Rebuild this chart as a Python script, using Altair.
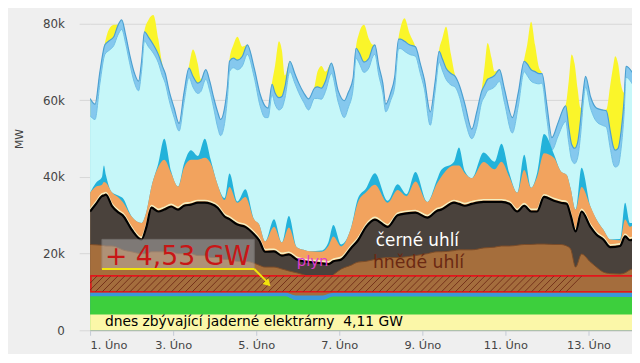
import altair as alt
import pandas as pd

FONT = "DejaVu Sans"

# ---------------- values (GW); x = day of February ----------------
# upper group: top of wind-onshore band, top of wind-offshore band, solar thickness on top
day_top = [
    1.000, 1.119, 1.238, 1.357, 1.452, 1.571, 1.667, 1.762, 1.857, 1.952,
    2.071, 2.167, 2.238, 2.310, 2.405, 2.524, 2.643, 2.738, 2.810, 2.905,
    3.024, 3.143, 3.262, 3.381, 3.476, 3.595, 3.667, 3.786, 3.881, 3.976,
    4.071, 4.143, 4.238, 4.310, 4.357, 4.452, 4.548, 4.667, 4.786, 4.952,
    5.095, 5.214, 5.286, 5.381, 5.452, 5.548, 5.619, 5.690, 5.810, 5.929,
    6.024, 6.143, 6.262, 6.405, 6.476, 6.571, 6.667, 6.810, 6.976, 7.119,
    7.214, 7.333, 7.405, 7.476, 7.595, 7.714, 7.810, 7.857, 7.952, 8.048,
    8.119, 8.238, 8.333, 8.429, 8.476, 8.571, 8.690, 8.833, 8.952, 9.048,
    9.190, 9.310, 9.405, 9.476, 9.571, 9.690, 9.786, 9.905, 10.024, 10.190,
    10.310, 10.429, 10.500, 10.571, 10.667, 10.738, 10.857, 10.976, 11.167, 11.310,
    11.452, 11.524, 11.619, 11.714, 11.810, 11.881, 12.000, 12.119, 12.262, 12.405,
    12.452, 12.524, 12.595, 12.667, 12.738, 12.810, 12.881, 12.929, 13.048, 13.190,
    13.333, 13.429, 13.524, 13.595, 13.643, 13.714, 13.786, 13.857, 13.905, 14.071,
]
top_offshore = [
    60.5, 59.0, 67.6, 74.5, 75.5, 76.6, 79.5, 81.0, 77.0, 72.0,
    67.0, 65.0, 70.0, 77.9, 76.5, 74.5, 72.0, 69.0, 67.0, 62.4,
    58.0, 54.0, 62.0, 68.4, 66.3, 64.5, 65.0, 68.0, 65.0, 60.7,
    57.0, 55.0, 58.0, 64.0, 70.2, 71.0, 70.5, 71.5, 74.5, 68.4,
    61.6, 58.5, 58.0, 64.2, 62.0, 60.7, 61.0, 63.5, 70.2, 67.0,
    64.5, 62.0, 60.4, 63.2, 63.5, 63.2, 65.0, 69.7, 62.4, 59.9,
    62.0, 65.8, 73.6, 72.5, 70.0, 71.0, 74.0, 74.5, 69.0, 64.5,
    59.0, 62.0, 66.0, 76.0, 76.0, 75.4, 74.5, 74.0, 69.5, 65.5,
    57.0, 65.0, 72.8, 71.0, 68.4, 67.0, 66.3, 63.5, 59.0, 52.5,
    57.0, 62.4, 64.0, 65.5, 66.0, 66.5, 68.0, 63.0, 55.5, 62.0,
    70.2, 69.5, 68.0, 67.5, 67.0, 67.0, 58.6, 50.3, 54.0, 58.0,
    58.6, 53.0, 48.5, 47.5, 49.0, 55.0, 63.0, 66.3, 61.0, 58.0,
    57.5, 57.3, 52.0, 48.0, 47.0, 47.5, 52.0, 60.0, 68.9, 67.0,
]
top_onshore = [
    56.0, 55.0, 64.5, 72.0, 73.0, 74.3, 77.0, 78.5, 74.8, 69.8,
    64.5, 62.5, 67.5, 75.5, 74.0, 72.3, 69.8, 66.5, 64.5, 60.0,
    55.5, 52.0, 59.5, 66.0, 63.5, 61.8, 62.3, 65.5, 62.5, 58.0,
    53.0, 50.8, 54.0, 61.0, 67.5, 68.5, 68.0, 69.0, 72.0, 66.0,
    58.5, 55.5, 55.5, 61.5, 59.0, 57.5, 58.0, 60.5, 67.5, 64.5,
    62.0, 59.5, 57.5, 60.5, 60.5, 60.3, 62.3, 67.0, 59.5, 55.5,
    58.0, 63.0, 71.0, 69.8, 67.3, 68.5, 71.5, 72.0, 66.5, 62.0,
    57.0, 60.0, 63.5, 73.5, 73.5, 72.8, 72.0, 71.5, 67.0, 63.0,
    53.5, 62.5, 70.0, 68.0, 65.5, 64.0, 63.5, 60.5, 55.0, 50.0,
    53.0, 59.5, 61.0, 62.5, 63.0, 63.5, 65.0, 59.5, 51.5, 58.5,
    67.5, 66.5, 65.0, 64.5, 64.3, 64.5, 55.0, 47.0, 50.5, 54.0,
    54.5, 49.0, 44.5, 43.5, 45.0, 51.0, 60.0, 63.5, 58.0, 54.5,
    53.5, 53.0, 47.5, 43.5, 42.6, 43.0, 47.5, 56.5, 66.0, 64.0,
]
solar = [
    0, 0, 0, 0.5, 3.0, 3.1, 0.3, 0, 0, 0,
    0, 0, 0, 0.3, 4.5, 7.8, 4.0, 0.5, 0, 0,
    0, 0, 0, 0.6, 7.0, 5.0, 0.5, 0, 0, 0,
    0, 0, 0, 0, 0.5, 3.5, 6.1, 2.5, 0, 0,
    0, 0, 0, 0.5, 7.0, 14.7, 12.0, 3.0, 0, 0,
    0, 0, 0, 0.5, 4.0, 5.8, 2.5, 0, 0, 0,
    0, 0, 0.5, 5.0, 9.7, 5.0, 0.5, 0, 0, 0,
    0, 0, 0, 0.5, 3.0, 6.0, 3.0, 0, 0, 0,
    0, 0, 0.5, 5.0, 10.8, 5.0, 0.3, 0, 0, 0,
    0, 0.5, 5.0, 9.5, 5.0, 1.0, 0, 0, 0, 0,
    0.5, 5.0, 12.5, 7.0, 1.5, 0, 0, 0, 0, 0,
    0.3, 12.0, 23.5, 22.0, 14.0, 3.0, 0, 0, 0, 0,
    0, 0.3, 12.0, 21.0, 24.5, 22.0, 12.0, 2.0, 0, 0,
]

# fossil group: tops of lignite, hard coal, gas; pumped-storage thickness on gas
day_fossil = [
    1.000, 1.143, 1.286, 1.333, 1.381, 1.524, 1.690, 1.786, 2.000, 2.238,
    2.357, 2.476, 2.643, 2.786, 2.952, 3.119, 3.262, 3.429, 3.595, 3.762,
    3.905, 4.071, 4.238, 4.357, 4.548, 4.738, 4.952, 5.071, 5.214, 5.429,
    5.619, 5.786, 5.976, 6.143, 6.286, 6.571, 6.738, 6.857, 7.048, 7.286,
    7.452, 7.643, 7.857, 8.167, 8.405, 8.619, 8.833, 9.119, 9.357, 9.452,
    9.762, 9.881, 10.024, 10.190, 10.476, 10.738, 10.905, 11.095, 11.286, 11.452,
    11.619, 11.762, 11.929, 12.167, 12.333, 12.476, 12.571, 12.690, 12.833, 13.048,
    13.190, 13.357, 13.524, 13.762, 13.881, 14.000, 14.071,
]
top_gas = [
    35.9, 37.5, 38.0, 38.7, 38.5, 36.0, 34.6, 33.5, 29.7, 28.0,
    31.0, 37.4, 42.6, 44.5, 41.0, 37.5, 42.5, 44.5, 44.5, 45.0,
    43.5, 38.0, 34.0, 37.4, 33.3, 34.8, 28.9, 27.6, 23.2, 27.0,
    22.9, 26.8, 21.7, 21.0, 20.6, 20.5, 22.0, 24.5, 21.9, 26.8,
    33.5, 36.0, 38.0, 33.3, 36.6, 35.0, 38.8, 33.5, 38.4, 40.0,
    43.0, 43.0, 41.0, 39.7, 43.9, 42.0, 44.0, 40.0, 35.9, 41.8,
    37.2, 40.0, 46.2, 45.0, 41.5, 40.5, 37.0, 31.5, 37.4, 32.3,
    29.0, 26.3, 23.7, 23.5, 28.9, 27.0, 27.5,
]
top_coal = [
    31.0, 33.0, 35.0, 35.2, 35.4, 32.5, 30.7, 30.0, 26.3, 23.7,
    27.0, 32.0, 31.0, 31.5, 32.3, 31.5, 32.5, 32.8, 33.3, 33.3,
    33.0, 32.0, 29.7, 29.0, 27.6, 27.0, 25.0, 23.5, 20.5, 20.6,
    19.5, 19.8, 18.5, 18.0, 17.8, 17.5, 17.3, 18.0, 18.5, 21.5,
    23.5, 27.0, 28.9, 27.0, 30.0, 30.5, 30.7, 29.4, 31.2, 31.5,
    33.3, 33.0, 32.5, 33.0, 33.5, 33.5, 33.5, 33.0, 31.0, 32.5,
    31.0, 31.0, 34.8, 33.8, 33.3, 33.0, 30.0, 25.8, 31.0, 27.0,
    25.0, 23.7, 21.7, 22.0, 24.5, 23.5, 23.7,
]
top_lignite = [
    22.4, 22.3, 22.2, 22.1, 22.0, 22.0, 21.5, 21.0, 20.5, 20.0,
    20.0, 20.5, 20.5, 20.5, 20.5, 20.0, 20.0, 20.0, 19.5, 19.5,
    19.0, 19.0, 18.5, 18.5, 18.0, 18.0, 17.5, 17.0, 16.5, 16.5,
    16.0, 15.5, 15.0, 14.5, 14.0, 13.5, 13.5, 14.5, 16.0, 17.0,
    17.8, 18.0, 18.5, 19.0, 19.0, 19.2, 19.5, 20.0, 20.5, 20.5,
    20.8, 21.0, 21.0, 21.0, 21.5, 21.7, 22.0, 22.0, 22.2, 22.4,
    22.4, 22.5, 22.5, 22.4, 22.4, 22.0, 21.2, 16.5, 19.9, 17.8,
    16.5, 15.2, 14.8, 14.7, 15.0, 15.8, 16.0,
]
pumped = [
    0, 1.0, 2.0, 4.3, 2.0, 0, 0.5, 1.0, 0, 0,
    0, 0, 1.0, 5.5, 0.5, 0, 1.0, 2.5, 1.0, 5.0,
    1.0, 0, 0.5, 3.5, 0.3, 2.0, 0, 0, 0, 2.0,
    0, 3.0, 0, 0, 0, 0.3, 1.0, 3.0, 0.5, 0,
    1.0, 1.0, 3.0, 0.5, 1.5, 0.5, 2.5, 0, 1.0, 1.8,
    1.0, 4.7, 0.5, 0, 2.5, 2.0, 4.7, 1.0, 0, 4.0,
    0, 1.0, 5.0, 1.0, 0, 0, 0, 0, 5.0, 0,
    0, 0, 0, 0.3, 4.4, 1.0, 0.5,
]

# bottom group: nuclear, biomass, hydro tops
day_base = [1.0, 5.7, 5.95, 6.6, 6.85, 14.071]
top_nuclear = [4.1, 4.1, 4.1, 4.1, 4.1, 4.1]
top_biomass = [8.9, 8.9, 7.9, 7.9, 8.8, 8.7]
top_hydro = [9.9, 9.9, 9.1, 9.1, 9.8, 9.8]

x_ticks = [1, 3, 5, 7, 9, 11, 13]
y_ticks = [0, 20, 40, 60, 80]

txt_gain = "+ 4,53 GW"
txt_gas = "plyn"
txt_coal = "černé uhlí"
txt_lignite = "hnědé uhlí"
txt_nuclear = "dnes zbývající jaderné elektrárny\u00a0\u00a04,11 GW"
# ------------------------------------------------------------------------------------------

top = pd.DataFrame({"day": day_top, "onshore": top_onshore,
                    "offshore": top_offshore, "solar": solar})
top["total"] = top["offshore"] + top["solar"]
fos = pd.DataFrame({"day": day_fossil, "gas": top_gas, "coal": top_coal,
                    "lignite": top_lignite, "pumped": pumped})
fos["pumped_top"] = fos["gas"] + fos["pumped"]
base = pd.DataFrame({"day": day_base, "nuclear": top_nuclear,
                     "biomass": top_biomass, "hydro": top_hydro})

W, H = 548, 324
XS = alt.Scale(domain=[1.0, 1.0 + W / 42.0], nice=False, zero=False)
YS = alt.Scale(domain=[0, 83.6], nice=False)

AX = alt.Axis(values=x_ticks, labelExpr="datum.value + '. Úno'", grid=False,
              ticks=True, tickSize=5, tickColor="#c4cad6", domain=True,
              domainColor="#c8c8c8", labelFont=FONT, labelFontSize=11.5,
              labelColor="#444444", labelPadding=4, title=None)
AY = alt.Axis(values=y_ticks, labelExpr="datum.value == 0 ? '0' : datum.value + 'k'",
              grid=True, gridColor="#d7d7d7", domain=False, ticks=True, tickSize=11,
              tickColor="#d7d7d7", labelPadding=15, labelFont=FONT, labelFontSize=12,
              labelColor="#444444", title="MW", titleFont=FONT, titleFontSize=11,
              titleFontWeight="normal", titleColor="#444444", titleX=-71, titleY=130,
              titleBaseline="middle", titleAlign="center")

X = alt.X("day:Q", scale=XS, axis=AX)


def area(df, field, color):
    return alt.Chart(df).mark_area(color=color, interpolate="monotone", clip=True).encode(
        x=X, y=alt.Y(f"{field}:Q", scale=YS, axis=AY, stack=None))


def line(df, field, color, width, **kw):
    return alt.Chart(df).mark_line(color=color, strokeWidth=width, interpolate="monotone",
                                   clip=True, **kw).encode(
        x=X, y=alt.Y(f"{field}:Q", scale=YS, axis=AY))


one = pd.DataFrame({"k": [0]})


def text(s, px, py, size, color):
    return alt.Chart(one).mark_text(text=s, align="left", baseline="alphabetic", font=FONT,
                                    fontSize=size, color=color).encode(
        x=alt.value(px), y=alt.value(py))


rect_df = pd.DataFrame({"a": [1.02], "b": [14.6], "lo": [10.05], "hi": [14.2]})
rect = alt.Chart(rect_df).mark_rect(fill="#a46d3d", stroke="#e3161b", strokeWidth=1.6,
                                    clip=True).encode(
    x=alt.X("a:Q", scale=XS, axis=AX), x2="b:Q",
    y=alt.Y("lo:Q", scale=YS, axis=AY), y2="hi:Q")

hatch = alt.Chart(alt.sequence(0, 72, as_="i")).transform_calculate(
    x0="0.63 + datum.i * 0.1667", x1="datum.x0 + 0.37", y0="10.1", y1="14.15"
).mark_rule(color="#74321a", strokeWidth=1, clip=True).encode(
    x=alt.X("x0:Q", scale=XS, axis=AX), x2="x1:Q",
    y=alt.Y("y0:Q", scale=YS, axis=AY), y2="y1:Q")

box = alt.Chart(one).mark_rect(fill="#bdbdbd", opacity=0.45, stroke="#a0a0a0",
                               strokeWidth=1).encode(
    x=alt.value(12), x2=alt.value(166), y=alt.value(232), y2=alt.value(262))

arrow_h = alt.Chart(one).mark_rule(color="#f2e40c", strokeWidth=2).encode(
    x=alt.value(12), x2=alt.value(166), y=alt.value(262), y2=alt.value(262))
arrow_d = alt.Chart(one).mark_rule(color="#f2e40c", strokeWidth=2).encode(
    x=alt.value(166), x2=alt.value(178), y=alt.value(262), y2=alt.value(274))
arrow_head = alt.Chart(one).mark_point(shape="triangle", filled=True, size=70, angle=135,
                                       color="#f2e40c", opacity=1).encode(
    x=alt.value(179), y=alt.value(276))

layers = [
    area(top, "total", "#faf52a"),
    area(top, "offshore", "#85c8ee"),
    line(top, "offshore", "#4a9fd4", 1.2),
    area(top, "onshore", "#c6f7f9"),
    line(top, "onshore", "#70bfe6", 1.0),
    area(fos, "pumped_top", "#23b2da"),
    area(fos, "gas", "#f2a35e"),
    area(fos, "coal", "#4a423c"),
    line(fos, "coal", "#f4efc2", 1.6, yOffset=-2.2),
    line(fos, "coal", "#000000", 2.2),
    area(fos, "lignite", "#a56e3c"),
    line(fos, "lignite", "#7b4c28", 1.0),
    area(base, "hydro", "#3a98da"),
    area(base, "biomass", "#3dcf3d"),
    area(base, "nuclear", "#fbf7a8"),
    rect,
    hatch,
    box,
    text(txt_gain, 15, 258, 27, "#c81616"),
    arrow_h,
    arrow_d,
    arrow_head,
    text(txt_gas, 209, 259, 15, "#e03cd0"),
    text(txt_coal, 289, 239, 17, "#ffffff"),
    text(txt_lignite, 286, 261, 17.5, "#6b2913"),
    text(txt_nuclear, 15, 320, 14, "#000000"),
]

chart = alt.layer(*layers).properties(
    width=W, height=H,
    autosize=alt.AutoSizeParams(type="none"),
    padding={"left": 83, "top": 0, "right": 0, "bottom": 22},
).configure(background="#efefef", font=FONT).configure_view(stroke=None)

chart.save("out.html", embed_options={"renderer": "svg", "actions": False})
